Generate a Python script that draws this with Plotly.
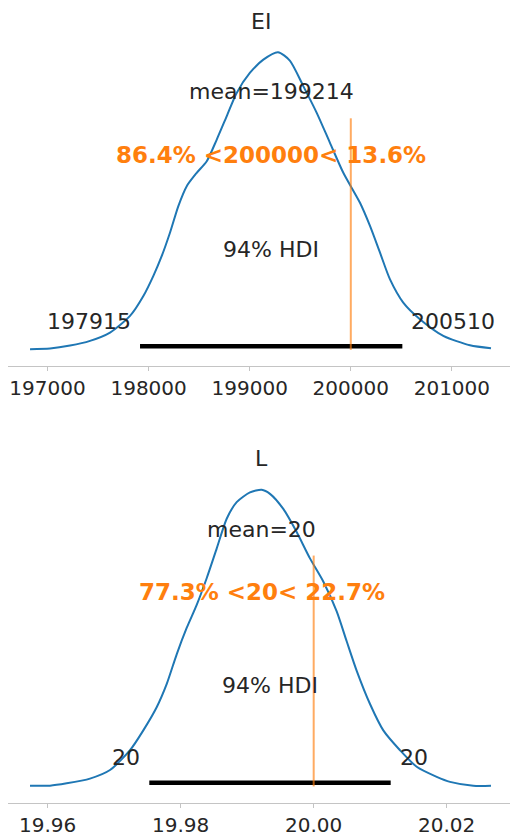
import plotly.graph_objects as go

# ---- posterior summaries -------------------------------------------------
# EI: kernel density estimate (scaled so the peak is 1)
ei_x = [196827, 197025, 197223, 197420, 197618, 197816, 197948, 198047,
        198130, 198212, 198294, 198377, 198476, 198575, 198674, 198773,
        198871, 199003, 199135, 199280, 199397, 199530, 199663, 199794,
        199926, 200091, 200190, 200289, 200388, 200519, 200684, 200915,
        201179, 201387]
ei_d = [0.0, 0.002, 0.012, 0.028, 0.056, 0.112, 0.179, 0.247, 0.314, 0.393,
        0.482, 0.549, 0.594, 0.633, 0.706, 0.785, 0.863, 0.931, 0.975, 1.0,
        0.972, 0.886, 0.796, 0.695, 0.594, 0.493, 0.415, 0.325, 0.235, 0.157,
        0.101, 0.045, 0.013, 0.003]
ei_mean = 199214
ei_hdi = [197915, 200510]
ei_ref = 200000
ei_ref_pct = [86.4, 13.6]
ei_ticks = [197000, 198000, 199000, 200000, 201000]

# L: kernel density estimate (scaled so the peak is 1)
l_x = [19.95734, 19.96035, 19.96286, 19.96636, 19.96937, 19.97238, 19.97438,
       19.97639, 19.97789, 19.97940, 19.98090, 19.98241, 19.98391, 19.98541,
       19.98692, 19.98842, 19.99042, 19.99218, 19.99343, 19.99543, 19.99744,
       19.99944, 20.00144, 20.00346, 20.00496, 20.00647, 20.00847, 20.01047,
       20.01298, 20.01549, 20.01850, 20.02050, 20.02400, 20.02666]
l_d = [0.0, 0.0, 0.008, 0.024, 0.053, 0.120, 0.187, 0.265, 0.343, 0.444,
       0.533, 0.611, 0.701, 0.801, 0.902, 0.958, 0.991, 1.0, 0.986, 0.935,
       0.857, 0.768, 0.690, 0.589, 0.488, 0.388, 0.276, 0.187, 0.120, 0.064,
       0.030, 0.013, 0.0, 0.0]
l_mean = 19.9922
l_hdi = [19.97528, 20.01158]
l_ref = 20
l_ref_pct = [77.3, 22.7]
l_ticks = [19.96, 19.98, 20.00, 20.02]

panels = [
    dict(name="EI", x=ei_x, d=ei_d, mean=ei_mean, hdi=ei_hdi, ref=ei_ref,
         pct=ei_ref_pct, ticks=ei_ticks, fmt=lambda v: f"{v:.0f}",
         tfmt=lambda v: f"{v:.0f}", xrange=[196612, 201575],
         ydom=[0.5607, 0.9573], title_y=0.9737),
    dict(name="L", x=l_x, d=l_d, mean=l_mean, hdi=l_hdi, ref=l_ref,
         pct=l_ref_pct, ticks=l_ticks, fmt=lambda v: f"{v:.0f}",
         tfmt=lambda v: f"{v:.2f}", xrange=[19.95408, 20.02952],
         ydom=[0.0373, 0.4327], title_y=0.4504),
]

BLUE = "#1f77b4"
ORANGE = "#ff7f0e"
FONT = "DejaVu Sans"
YR = [-0.058, 1.056]

fig = go.Figure()
layout = dict(
    width=510, height=837, margin=dict(l=0, r=0, t=0, b=0),
    paper_bgcolor="white", plot_bgcolor="white", showlegend=False,
    font=dict(family=FONT, size=20, color="#262626"),
)
annotations = []

for i, p in enumerate(panels, start=1):
    xa = "x" if i == 1 else f"x{i}"
    ya = "y" if i == 1 else f"y{i}"
    xkey = "xaxis" if i == 1 else f"xaxis{i}"
    ykey = "yaxis" if i == 1 else f"yaxis{i}"

    # density curve
    fig.add_trace(go.Scatter(x=p["x"], y=p["d"], mode="lines",
                             line=dict(color=BLUE, width=2, shape="spline",
                                       smoothing=0.7),
                             xaxis=xa, yaxis=ya, hoverinfo="skip"))
    # HDI bar
    fig.add_trace(go.Scatter(x=p["hdi"], y=[0.01, 0.01], mode="lines",
                             line=dict(color="black", width=4.5),
                             xaxis=xa, yaxis=ya, hoverinfo="skip"))
    # reference value line (5% .. 75% of the axis height)
    fig.add_trace(go.Scatter(x=[p["ref"], p["ref"]],
                             y=[YR[0] + 0.05 * (YR[1] - YR[0]),
                                YR[0] + 0.75 * (YR[1] - YR[0])],
                             mode="lines", opacity=0.65,
                             line=dict(color=ORANGE, width=2),
                             xaxis=xa, yaxis=ya, hoverinfo="skip"))

    layout[xkey] = dict(
        domain=[0.0163, 1.0], range=p["xrange"], anchor=ya,
        showgrid=False, zeroline=False, showline=True, linecolor="#c4c4c4",
        linewidth=1.2, ticks="outside", ticklen=4, tickcolor="#c4c4c4",
        tickvals=p["ticks"], ticktext=[p["tfmt"](v) for v in p["ticks"]],
        tickfont=dict(family=FONT, size=20, color="#262626"),
    )
    layout[ykey] = dict(domain=p["ydom"], range=YR, anchor=xa,
                        visible=False, showgrid=False, zeroline=False)

    txt = dict(xref=xa, yref=ya, showarrow=False, yanchor="middle",
               font=dict(family=FONT, size=22, color="#262626"))
    annotations.append(dict(txt, x=p["mean"], y=0.867, xanchor="center",
                            text=f"mean={p['fmt'](p['mean'])}"))
    annotations.append(dict(txt, x=p["mean"], y=0.653, xanchor="center",
                            text=(f"<b>{p['pct'][0]}% &lt;{p['ref']}&lt; "
                                  f"{p['pct'][1]}%</b>"),
                            font=dict(family=FONT, size=23, color=ORANGE)))
    annotations.append(dict(txt, x=(p["hdi"][0] + p["hdi"][1]) / 2, y=0.337,
                            xanchor="center", text="94% HDI"))
    annotations.append(dict(txt, x=p["hdi"][0], y=0.094, xanchor="right",
                            xshift=-7, text=p["fmt"](p["hdi"][0])))
    annotations.append(dict(txt, x=p["hdi"][1], y=0.094, xanchor="left",
                            xshift=7, text=p["fmt"](p["hdi"][1])))
    # panel title
    annotations.append(dict(xref="paper", yref="paper", x=261 / 510,
                            y=p["title_y"], xanchor="center", yanchor="middle",
                            showarrow=False, text=p["name"],
                            font=dict(family=FONT, size=22, color="#262626")))

layout["annotations"] = annotations
fig.update_layout(**layout)
fig.write_html("out.html")
